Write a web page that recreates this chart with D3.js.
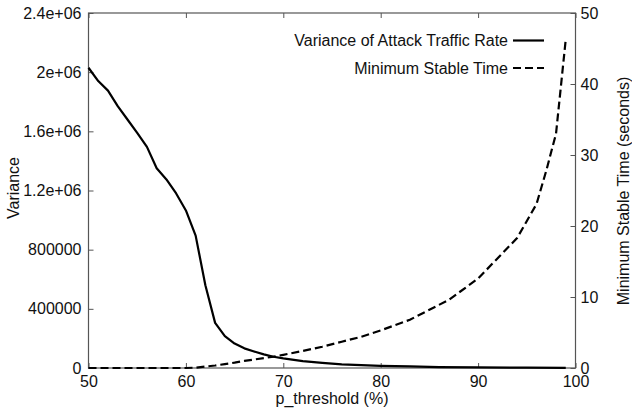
<!DOCTYPE html>
<html><head><meta charset="utf-8">
<script src="https://cdn.jsdelivr.net/npm/d3@7"></script>
<style>body{margin:0;background:#fff}svg{display:block}text{font-family:"Liberation Sans",Arial,sans-serif;font-size:16px;fill:#111}</style>
</head><body><svg id="c" width="632" height="414"></svg>
<script>
const varianceX = [50,51,52,53,54,55,56,57,58,59,60,61,62,63,64,65,66,67,68,69,70,72,74,76,78,80,83,86,90,95,99];
const varianceY = [2030000,1940000,1875000,1770000,1680000,1590000,1495000,1350000,1275000,1180000,1065000,895000,560000,305000,215000,165000,133000,112000,92000,76000,65000,47000,35000,25000,19000,15000,11000,6000,4000,2000,1000];
const stableX = [50,55,60,61,62,63,64,65,66,67,68,69,70,72,74,76,78,80,83,85,87,90,94,96,97,98,99];
const stableY = [0,0,0,0.05,0.2,0.35,0.55,0.75,1.0,1.2,1.4,1.6,1.85,2.4,3.0,3.7,4.4,5.3,6.8,8.2,9.6,12.6,18.3,23.1,27.8,33.0,46.3];
const xTicks = [50,60,70,80,90,100];
const yTicks = [0,400000,800000,1200000,1600000,2000000,2400000];
const yTickLabels = ["0","400000","800000","1.2e+06","1.6e+06","2e+06","2.4e+06"];
const y2Ticks = [0,10,20,30,40,50];
const seriesNames = ["Variance of Attack Traffic Rate","Minimum Stable Time"];

const L=88.5,R=575.5,T=13,B=368;
const svg=d3.select("#c");
const x=d3.scaleLinear().domain([50,100]).range([L,R]);
const y=d3.scaleLinear().domain([0,2400000]).range([B,T]);
const y2=d3.scaleLinear().domain([0,50]).range([B,T]);
const frame="#555";

const gx=svg.append("g").attr("transform",`translate(0,${B})`)
  .call(d3.axisBottom(x).tickValues(xTicks).tickSize(-5).tickPadding(8).tickFormat(d3.format("d")));
const gxt=svg.append("g").attr("transform",`translate(0,${T})`)
  .call(d3.axisTop(x).tickValues(xTicks).tickSize(-5).tickFormat(""));
const gy=svg.append("g").attr("transform",`translate(${L},0)`)
  .call(d3.axisLeft(y).tickValues(yTicks).tickSize(-5).tickPadding(7).tickFormat((d,i)=>yTickLabels[i]));
const gy2=svg.append("g").attr("transform",`translate(${R},0)`)
  .call(d3.axisRight(y2).tickValues(y2Ticks).tickSize(-5).tickPadding(5).tickFormat(d3.format("d")));
[gx,gxt,gy,gy2].forEach(g=>{
  g.select(".domain").remove();
  g.selectAll(".tick line").attr("stroke",frame);
  g.selectAll(".tick text").style("font-size","16px").attr("fill","#111").style("font-family","Liberation Sans, Arial, sans-serif");
});

svg.append("rect").attr("x",L).attr("y",T).attr("width",R-L).attr("height",B-T)
  .attr("fill","none").attr("stroke",frame).attr("stroke-width",1.2);

const line1=d3.line().x(d=>x(d[0])).y(d=>y(d[1]));
const line2=d3.line().x(d=>x(d[0])).y(d=>y2(d[1]));
svg.append("path").datum(varianceX.map((v,i)=>[v,varianceY[i]])).attr("d",line1)
  .attr("fill","none").attr("stroke","#000").attr("stroke-width",2.2).attr("stroke-linejoin","round");
svg.append("path").datum(stableX.map((v,i)=>[v,stableY[i]])).attr("d",line2)
  .attr("fill","none").attr("stroke","#000").attr("stroke-width",2.2).attr("stroke-dasharray","8,4");

const leg=[{n:seriesNames[0],y:40.5,dash:null},{n:seriesNames[1],y:68,dash:"8,4"}];
leg.forEach(l=>{
  svg.append("text").attr("x",508).attr("y",l.y).attr("dy","0.35em").attr("text-anchor","end").text(l.n);
  svg.append("line").attr("x1",513).attr("x2",544).attr("y1",l.y).attr("y2",l.y)
    .attr("stroke","#000").attr("stroke-width",2.2).attr("stroke-dasharray",l.dash);
});

svg.append("text").attr("transform",`translate(13,188) rotate(-90)`).attr("dy","0.35em").attr("text-anchor","middle").text("Variance");
svg.append("text").attr("x",(L+R)/2).attr("y",398).attr("dy","0.35em").attr("text-anchor","middle").text("p_threshold (%)");
svg.append("text").attr("transform",`translate(623.5,191) rotate(-90)`).attr("dy","0.35em").attr("text-anchor","middle").text("Minimum Stable Time (seconds)");
</script></body></html>
